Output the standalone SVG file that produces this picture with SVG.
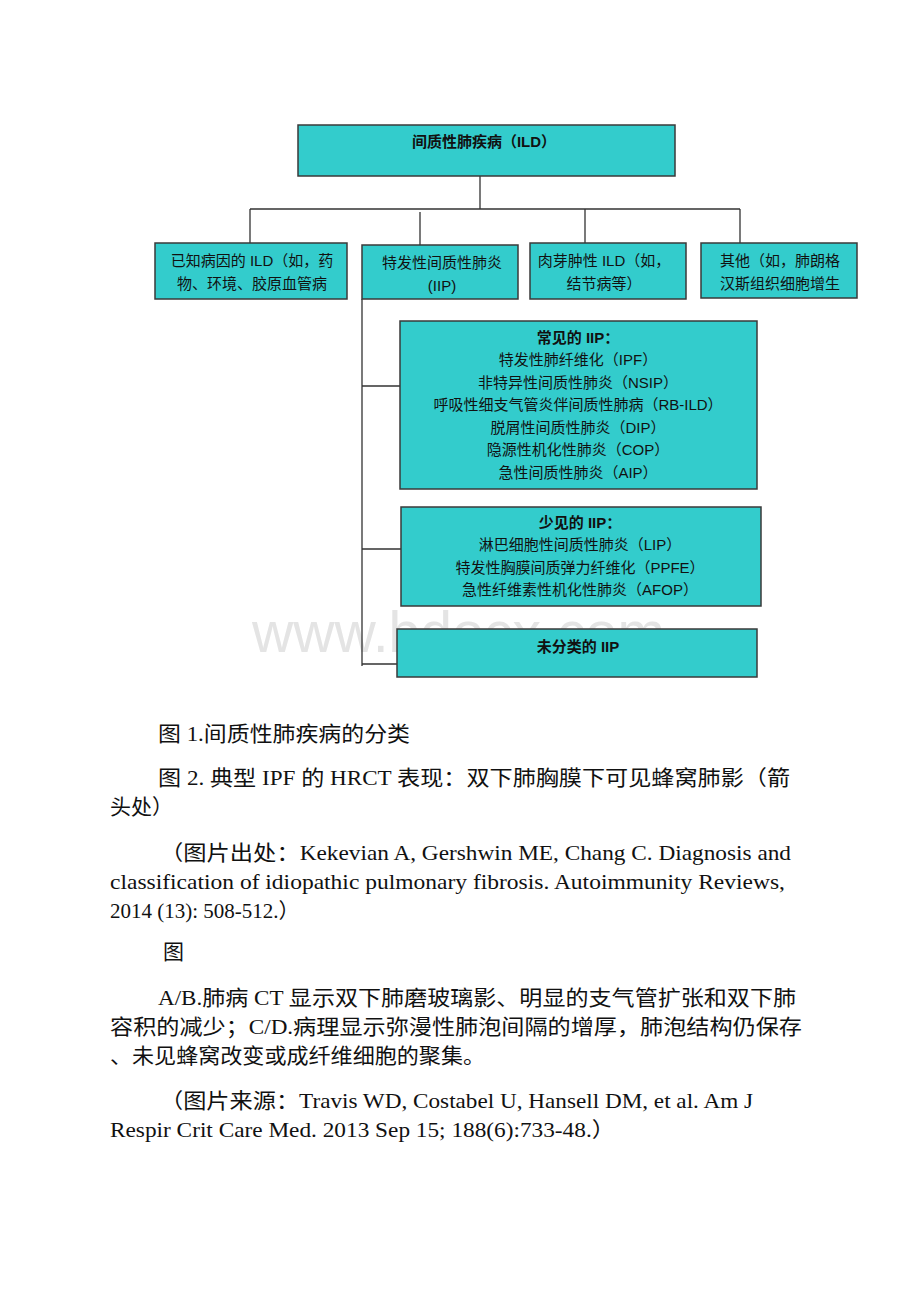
<svg xmlns="http://www.w3.org/2000/svg" width="920" height="1302" viewBox="0 0 920 1302">
<style>
.box{fill:#33CCCC;stroke:#3a3a3a;stroke-width:1.5}
.bt{font-family:"Liberation Sans","Noto Sans CJK SC",sans-serif;font-size:15px;fill:#111;text-anchor:middle}
.b{font-weight:bold}
.ln{stroke:#333;stroke-width:1.3;fill:none}
.body{font-family:"Liberation Serif","Noto Sans CJK SC",serif;font-size:21px;fill:#111}
.wm{font-family:"Liberation Sans",sans-serif;font-size:58px;fill:#e4e4e4}
</style>
<rect width="920" height="1302" fill="#fff"/>
<text class="wm" x="252" y="652" textLength="413" lengthAdjust="spacingAndGlyphs">www.bdocx.com</text>
<g id="connectors">
<path class="ln" d="M480,176 V209 M250,209 H740 M250,209 V243 M420,212 V245 M585,209 V243 M740,209 V243"/>
<path class="ln" d="M362,299 V666 M362,386 H400 M362,549 H401 M362,664 H397"/>
</g>
<g id="ild">
<rect class="box" x="298" y="125" width="377" height="51"/>
<text class="bt b" x="484" y="147">间质性肺疾病（ILD）</text>
</g>
<g id="known">
<rect class="box" x="155" y="243" width="192" height="56"/>
<text class="bt" x="252" y="266">已知病因的 ILD（如，药</text>
<text class="bt" x="252" y="289">物、环境、胶原血管病</text>
</g>
<g id="iip">
<rect class="box" x="362" y="245" width="156" height="54"/>
<text class="bt" x="442" y="268">特发性间质性肺炎</text>
<text class="bt" x="442" y="291">(IIP)</text>
</g>
<g id="granu">
<rect class="box" x="530" y="243" width="156" height="56"/>
<text class="bt" x="604" y="266">肉芽肿性 ILD（如，</text>
<text class="bt" x="604" y="289">结节病等）</text>
</g>
<g id="other">
<rect class="box" x="701" y="243" width="156" height="55"/>
<text class="bt" x="780" y="266">其他（如，肺朗格</text>
<text class="bt" x="780" y="289">汉斯组织细胞增生</text>
</g>
<g id="common">
<rect class="box" x="400" y="321" width="357" height="168"/>
<text class="bt b" x="578" y="343">常见的 IIP：</text>
<text class="bt" x="578" y="365">特发性肺纤维化（IPF）</text>
<text class="bt" x="578" y="388">非特异性间质性肺炎（NSIP）</text>
<text class="bt" x="578" y="410">呼吸性细支气管炎伴间质性肺病（RB-ILD）</text>
<text class="bt" x="578" y="433">脱屑性间质性肺炎（DIP）</text>
<text class="bt" x="578" y="455">隐源性机化性肺炎（COP）</text>
<text class="bt" x="578" y="478">急性间质性肺炎（AIP）</text>
</g>
<g id="rare">
<rect class="box" x="401" y="507" width="360" height="99"/>
<text class="bt b" x="580" y="528">少见的 IIP：</text>
<text class="bt" x="580" y="550">淋巴细胞性间质性肺炎（LIP）</text>
<text class="bt" x="580" y="573">特发性胸膜间质弹力纤维化（PPFE）</text>
<text class="bt" x="580" y="595">急性纤维素性机化性肺炎（AFOP）</text>
</g>
<g id="unclass">
<rect class="box" x="397" y="629" width="360" height="48"/>
<text class="bt b" x="578" y="652">未分类的 IIP</text>
</g>
<g id="caption">
<text class="body" x="158" y="741" textLength="252" lengthAdjust="spacingAndGlyphs">图 1.间质性肺疾病的分类</text>
<text class="body" x="158" y="785" textLength="632" lengthAdjust="spacingAndGlyphs">图 2. 典型 IPF 的 HRCT 表现：双下肺胸膜下可见蜂窝肺影（箭</text>
<text class="body" x="110" y="814">头处）</text>
<text class="body" x="160" y="860" textLength="631" lengthAdjust="spacingAndGlyphs">（图片出处：Kekevian A, Gershwin ME, Chang C. Diagnosis and</text>
<text class="body" x="110" y="889" textLength="675" lengthAdjust="spacingAndGlyphs">classification of idiopathic pulmonary fibrosis. Autoimmunity Reviews,</text>
<text class="body" x="110" y="918">2014 (13): 508-512.）</text>
<text class="body" x="163" y="959">图</text>
<text class="body" x="158" y="1005" textLength="638" lengthAdjust="spacingAndGlyphs">A/B.肺病 CT 显示双下肺磨玻璃影、明显的支气管扩张和双下肺</text>
<text class="body" x="110" y="1034" textLength="692" lengthAdjust="spacingAndGlyphs">容积的减少；C/D.病理显示弥漫性肺泡间隔的增厚，肺泡结构仍保存</text>
<text class="body" x="110" y="1063" textLength="375" lengthAdjust="spacingAndGlyphs">、未见蜂窝改变或成纤维细胞的聚集。</text>
<text class="body" x="160" y="1108" textLength="593" lengthAdjust="spacingAndGlyphs">（图片来源：Travis WD, Costabel U, Hansell DM, et al. Am J</text>
<text class="body" x="110" y="1137" textLength="505" lengthAdjust="spacingAndGlyphs">Respir Crit Care Med. 2013 Sep 15; 188(6):733-48.）</text>
</g>
</svg>
